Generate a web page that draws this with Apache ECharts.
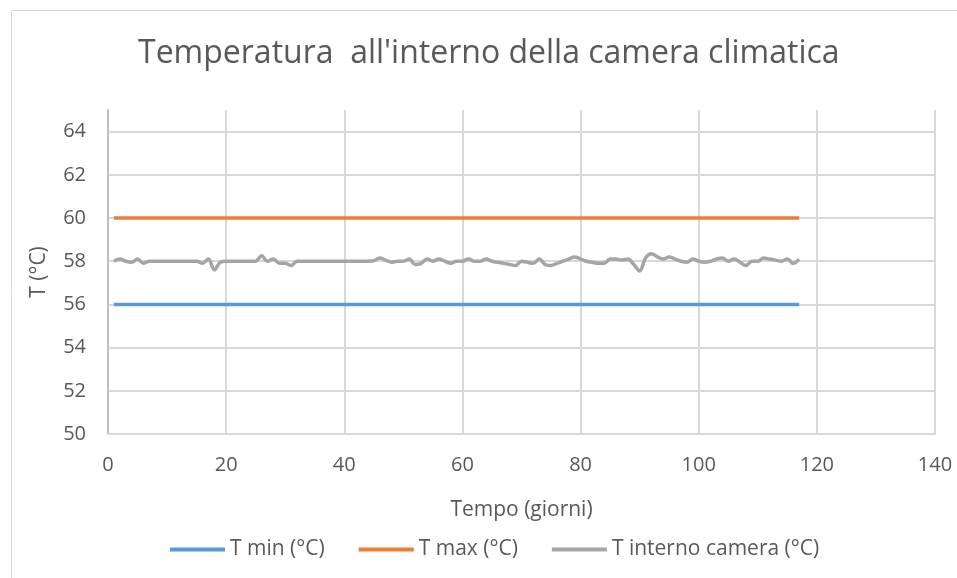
<!DOCTYPE html>
<html>
<head>
<meta charset="utf-8">
<script src="https://cdn.jsdelivr.net/npm/echarts@6/dist/echarts.min.js"></script>
<style>html,body{margin:0;padding:0;background:#fff;}#c{width:957px;height:578px;}</style>
</head>
<body>
<div id="c"></div>
<script>
var titleText = "Temperatura  all'interno della camera climatica";
var xName = 'Tempo (giorni)';
var yName = 'T (°C)';
var seriesNames = ['T min (°C)', 'T max (°C)', 'T interno camera (°C)'];
var xTicks = { min: 0, max: 140, interval: 20 };
var yTicks = { min: 50, max: 65, interval: 2 };

var days = [1,2,3,4,5,6,7,8,9,10,11,12,13,14,15,16,17,18,19,20,
  21,22,23,24,25,26,27,28,29,30,31,32,33,34,35,36,37,38,39,40,
  41,42,43,44,45,46,47,48,49,50,51,52,53,54,55,56,57,58,59,60,
  61,62,63,64,65,66,67,68,69,70,71,72,73,74,75,76,77,78,79,80,
  81,82,83,84,85,86,87,88,89,90,91,92,93,94,95,96,97,98,99,100,
  101,102,103,104,105,106,107,108,109,110,111,112,113,114,115,116,117];

var tInterno = [58.0,58.1,58.0,57.95,58.1,57.9,58.0,58.0,58.0,58.0,
  58.0,58.0,58.0,58.0,58.0,57.9,58.1,57.6,57.95,58.0,
  58.0,58.0,58.0,58.0,58.0,58.25,58.0,58.1,57.9,57.9,
  57.8,58.0,58.0,58.0,58.0,58.0,58.0,58.0,58.0,58.0,
  58.0,58.0,58.0,58.0,58.02,58.15,58.05,57.95,58.0,58.0,
  58.1,57.85,57.9,58.1,58.0,58.1,58.0,57.9,58.0,58.0,
  58.1,58.0,58.0,58.1,58.0,57.95,57.9,57.85,57.8,58.0,
  57.95,57.9,58.1,57.85,57.8,57.9,58.0,58.1,58.2,58.1,
  58.0,57.95,57.9,57.9,58.1,58.1,58.05,58.1,57.85,57.55,
  58.15,58.35,58.2,58.1,58.2,58.1,58.0,57.95,58.1,58.0,
  57.95,58.0,58.1,58.15,58.0,58.1,57.95,57.8,58.0,58.0,
  58.15,58.1,58.05,58.0,58.1,57.9,58.1];

var tMinDays = [1, 117];
var tMinVals = [56, 56];
var tMaxDays = [1, 117];
var tMaxVals = [60, 60];

function pairs(xs, ys) { return xs.map(function (x, i) { return [x, ys[i]]; }); }

var FONT = 'Open Sans';
var TXT = '#595959';

var chart = echarts.init(document.getElementById('c'), null, { renderer: 'canvas' });
chart.setOption({
  backgroundColor: '#ffffff',
  animation: false,
  title: {
    text: titleText,
    left: 133,
    top: 33,
    textStyle: { fontFamily: FONT, fontSize: 32, fontWeight: 'normal', color: TXT }
  },
  graphic: [{
    type: 'rect', silent: true,
    shape: { x: 11.5, y: 10.5, width: 1000, height: 1000 },
    style: { fill: 'none', stroke: '#d9d9d9', lineWidth: 1 }
  }],
  grid: { left: 108, right: 22, top: 110, bottom: 144, containLabel: false },
  legend: {
    left: 170, top: 539, padding: 0,
    icon: 'rect',
    itemWidth: 55, itemHeight: 4, itemGap: 34, itemTextGap: 3,
    textStyle: { fontFamily: FONT, fontSize: 21, color: TXT },
    data: seriesNames
  },
  xAxis: {
    type: 'value',
    min: xTicks.min, max: xTicks.max, interval: xTicks.interval,
    name: xName, nameLocation: 'middle', nameGap: 66,
    nameTextStyle: { fontFamily: FONT, fontSize: 21, color: TXT },
    axisLine: { show: true, lineStyle: { color: '#d9d9d9', width: 2 } },
    axisTick: { show: false },
    axisLabel: { fontFamily: FONT, fontSize: 20, color: TXT, margin: 21 },
    splitLine: { show: true, lineStyle: { color: '#d9d9d9', width: 2 } }
  },
  yAxis: {
    type: 'value',
    min: yTicks.min, max: yTicks.max, interval: yTicks.interval,
    name: yName, nameLocation: 'middle', nameGap: 58, nameRotate: 90,
    nameTextStyle: { fontFamily: FONT, fontSize: 21, color: TXT },
    axisLine: { show: true, lineStyle: { color: '#bfbfbf', width: 2 } },
    axisTick: { show: false },
    axisLabel: { fontFamily: FONT, fontSize: 20, color: TXT, margin: 22, showMaxLabel: false },
    splitLine: { show: true, showMaxLine: false, lineStyle: { color: '#d9d9d9', width: 2 } }
  },
  series: [
    { name: seriesNames[0], type: 'line', symbol: 'none', data: pairs(tMinDays, tMinVals),
      lineStyle: { color: '#5b9bd5', width: 3.5 }, itemStyle: { color: '#5b9bd5' } },
    { name: seriesNames[1], type: 'line', symbol: 'none', data: pairs(tMaxDays, tMaxVals),
      lineStyle: { color: '#ed7d31', width: 3.5 }, itemStyle: { color: '#ed7d31' } },
    { name: seriesNames[2], type: 'line', symbol: 'none', smooth: 0.35, data: pairs(days, tInterno),
      lineStyle: { color: '#a5a5a5', width: 3.5 }, itemStyle: { color: '#a5a5a5' } }
  ]
});
</script>
</body>
</html>
